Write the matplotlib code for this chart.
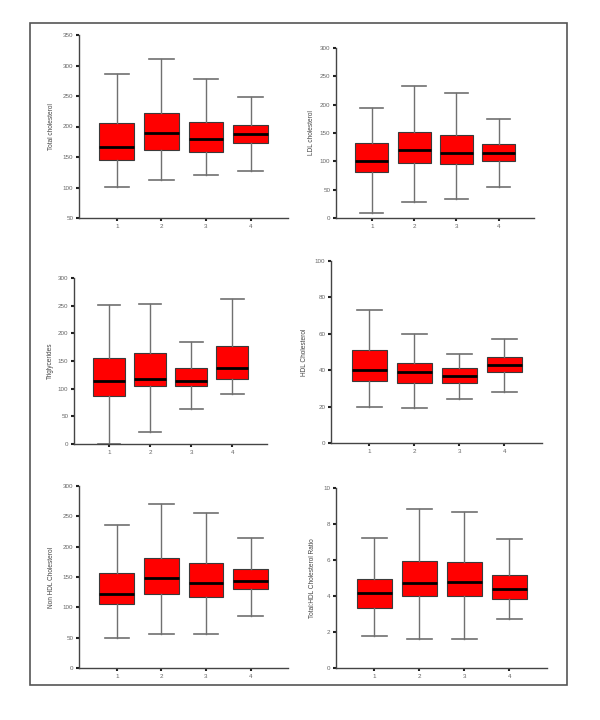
import matplotlib
matplotlib.use("Agg")
import matplotlib.pyplot as plt
from matplotlib.patches import Rectangle

plt.rcParams['font.family'] = ['Liberation Sans', 'DejaVu Sans']

groups = [1, 2, 3, 4]

# Each: [whisker low, Q1, median, Q3, whisker high]
total_chol = [[101, 145, 166, 205, 286], [113, 162, 189, 222, 310],
              [120, 158, 179, 207, 278], [127, 173, 188, 203, 249]]
ldl_chol = [[8, 82, 101, 132, 194], [29, 97, 120, 151, 233],
            [34, 95, 115, 146, 221], [54, 100, 115, 131, 175]]
triglycerides = [[0, 86, 114, 155, 251], [21, 104, 117, 164, 253],
                 [64, 104, 114, 138, 185], [90, 117, 138, 177, 262]]
hdl_chol = [[20, 34, 40, 51, 73], [19, 33, 39, 44, 60],
            [24, 33, 37, 41, 49], [28, 39, 43, 47, 57]]
non_hdl_chol = [[50, 105, 122, 157, 236], [56, 122, 148, 182, 271],
                [56, 117, 140, 173, 255], [86, 130, 144, 164, 215]]
ratio = [[1.77, 3.36, 4.14, 4.94, 7.21], [1.6, 4.01, 4.72, 5.93, 8.83],
         [1.6, 4.01, 4.78, 5.91, 8.68], [2.75, 3.83, 4.37, 5.17, 7.16]]

ylabels = ["Total cholesterol", "LDL cholesterol", "Triglycerides",
           "HDL Cholesterol", "Non HDL Cholesterol", "Total:HDL Cholesterol Ratio"]
datasets = [total_chol, ldl_chol, triglycerides, hdl_chol, non_hdl_chol, ratio]
ylims = [(50, 350), (0, 300), (0, 300), (0, 100), (0, 300), (0, 10)]
ysteps = [50, 50, 50, 20, 50, 2]

# pixel boxes: left, right, top, bottom
pix = [(79, 288, 35, 218), (336, 534, 48, 218), (74, 267, 278, 444),
       (331, 542, 261, 443), (79, 288, 486, 668), (336, 547, 488, 668)]
labx = [24, 21, 20, 23, 24, 20]

W, H = 600, 720
fig = plt.figure(figsize=(6, 7.2), dpi=100)
fig.patches.append(Rectangle((30 / W, 1 - 685 / H), (567 - 30) / W, (685 - 23) / H,
                             transform=fig.transFigure, fill=False,
                             edgecolor='#555555', linewidth=1.2))

for data, lab, yl, st, (l, r, t, b), lx in zip(datasets, ylabels, ylims, ysteps, pix, labx):
    ax = fig.add_axes([l / W, 1 - b / H, (r - l) / W, (b - t) / H])
    stats = []
    for g, d in zip(groups, data):
        stats.append(dict(whislo=d[0], q1=d[1], med=d[2], q3=d[3], whishi=d[4],
                          fliers=[], label=str(g)))
    ax.bxp(stats, positions=groups, widths=0.78, patch_artist=True,
           showfliers=False,
           boxprops=dict(facecolor='#ff0000', edgecolor='#3a3a3a', linewidth=0.8),
           medianprops=dict(color='black', linewidth=2.0),
           whiskerprops=dict(color='#707070', linewidth=1.0),
           capprops=dict(color='#707070', linewidth=1.2),
           capwidths=0.55)
    ax.set_xlim(0.15, 4.84)
    ax.set_ylim(*yl)
    ax.set_yticks([yl[0] + i * st for i in range(int(round((yl[1] - yl[0]) / st)) + 1)])
    ax.set_xticks(groups)
    ax.set_xticklabels([str(g) for g in groups])
    for s in ['top', 'right']:
        ax.spines[s].set_visible(False)
    for s in ['left', 'bottom']:
        ax.spines[s].set_color('#444444')
        ax.spines[s].set_linewidth(1.0)
    ax.tick_params(axis='both', length=2, width=1.5, color='#222222',
                   labelsize=4.5, labelcolor='#666666', pad=2)
    ax.set_ylabel(lab, fontsize=4.7, color='#444444')
    ax.yaxis.set_label_coords(-lx / (r - l), 0.5)

fig.savefig("out.png", dpi=100)
